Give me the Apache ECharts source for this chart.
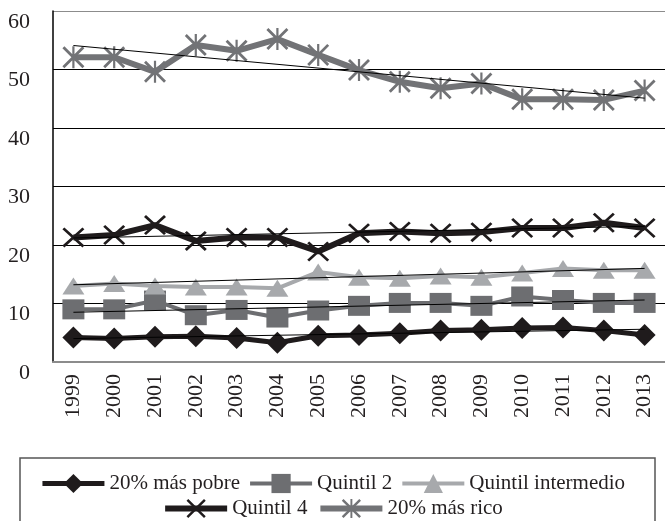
<!DOCTYPE html>
<html>
<head>
<meta charset="utf-8">
<script src="https://cdn.jsdelivr.net/npm/echarts@6/dist/echarts.min.js"></script>
<style>
  html, body { margin: 0; padding: 0; background: #fff; }
  #chart { width: 665px; height: 521px; }
</style>
</head>
<body>
<div id="chart"></div>
<script>
// años
const years = ["1999", "2000", "2001", "2002", "2003", "2004", "2005", "2006",
  "2007", "2008", "2009", "2010", "2011", "2012", "2013"];

// valores
const pobre = [4.2, 4.0, 4.3, 4.4, 4.1, 3.3, 4.5, 4.6, 4.9, 5.4, 5.5, 5.8, 5.9, 5.4, 4.6];
const quintil2 = [9.0, 9.0, 10.5, 8.0, 8.9, 7.6, 8.8, 9.6, 10.1, 10.1, 9.6, 11.2, 10.6, 10.1, 10.1];
const intermedio = [13.0, 13.4, 13.0, 12.8, 12.8, 12.6, 15.4, 14.5, 14.3, 14.7, 14.5, 15.2, 16.0, 15.7, 15.7];
const quintil4 = [21.3, 21.7, 23.4, 20.7, 21.3, 21.3, 18.9, 22.0, 22.3, 22.0, 22.2, 22.9, 22.9, 23.8, 22.9];
const rico = [52.1, 52.1, 49.6, 54.2, 53.2, 55.2, 52.5, 49.9, 47.9, 46.8, 47.6, 44.9, 44.9, 44.8, 46.4];

// líneas de tendencia: valor en 1999 y en 2013
const trendStart = [4.0, 8.5, 13.2, 21.2, 54.1];
const trendEnd = [5.6, 10.6, 16.0, 23.2, 45.1];

const yTicks = [0, 10, 20, 30, 40, 50, 60];

const names = ["20% más pobre", "Quintil 2", "Quintil intermedio", "Quintil 4", "20% más rico"];

const crossPath = "path://M0,9 L9,0 L100,91 L91,100 Z M91,0 L100,9 L9,100 L0,91 Z";
const starPath = "path://M0,9 L9,0 L100,91 L91,100 Z M91,0 L100,9 L9,100 L0,91 Z M45,0 L55,0 L55,100 L45,100 Z";

const serif = "'Liberation Serif', serif";

function trendData(i) {
  let d = years.map(() => null);
  d[0] = trendStart[i];
  d[years.length - 1] = trendEnd[i];
  return d;
}

const mainSeries = [
  { data: pobre, color: "#1f1b1c", width: 5, symbol: "diamond", size: [22, 22] },
  { data: quintil2, color: "#6d6e71", width: 4, symbol: "rect", size: [22, 20] },
  { data: intermedio, color: "#a7a9ac", width: 4, symbol: "triangle", size: [22, 17] },
  { data: quintil4, color: "#1f1b1c", width: 6, symbol: crossPath, size: [22, 20] },
  { data: rico, color: "#727376", width: 6, symbol: starPath, size: [22, 22] },
];

let series = mainSeries.map((s, i) => ({
  name: names[i],
  type: "line",
  data: s.data,
  symbol: s.symbol,
  symbolSize: s.size,
  showAllSymbol: true,
  itemStyle: { color: s.color },
  lineStyle: { color: s.color, width: s.width },
  z: 2 + i,
}));

names.forEach((n, i) => {
  series.push({
    name: "tendencia " + i,
    type: "line",
    data: trendData(i),
    connectNulls: true,
    symbol: "none",
    lineStyle: { color: "#000", width: 1 },
    z: 10,
  });
});

const legendItems = names.map((n, i) => ({
  name: n,
  lineStyle: { width: mainSeries[i].width, color: mainSeries[i].color },
  textStyle: { fontFamily: serif, fontSize: 21, color: "#231f20" },
}));

const legendText = { fontFamily: serif, fontSize: 21, color: "#231f20" };

const chart = echarts.init(document.getElementById("chart"));
chart.setOption({
  animation: false,
  backgroundColor: "#fff",
  textStyle: { fontFamily: serif },
  grid: { left: 53, right: -8, top: 11, bottom: 159 },
  xAxis: {
    type: "category",
    data: years,
    boundaryGap: true,
    axisLine: { lineStyle: { color: "#8c8c8c", width: 2 } },
    axisTick: { show: false },
    axisLabel: {
      rotate: 90,
      margin: 12,
      fontFamily: serif,
      fontSize: 22,
      color: "#231f20",
    },
  },
  yAxis: {
    type: "value",
    min: yTicks[0],
    max: yTicks[yTicks.length - 1],
    interval: 10,
    axisLine: { show: true, lineStyle: { color: "#000", width: 1.5 } },
    axisTick: { show: false },
    axisLabel: {
      margin: 23,
      verticalAlign: "top",
      fontFamily: serif,
      fontSize: 22,
      color: "#231f20",
    },
    splitLine: {
      lineStyle: { color: ["#000", "#000", "#000", "#000", "#000", "#000", "#8c8c8c"], width: 1 },
    },
  },
  legend: [
    {
      data: legendItems.slice(0, 3),
      top: 468,
      left: "center",
      itemWidth: 62,
      itemHeight: 24,
      itemGap: 8,
      selectedMode: false,
      textStyle: legendText,
    },
    {
      data: legendItems.slice(3),
      top: 493,
      left: "center",
      itemWidth: 62,
      itemHeight: 24,
      itemGap: 10,
      selectedMode: false,
      textStyle: legendText,
    },
  ],
  graphic: [
    {
      type: "rect",
      shape: { x: 20, y: 458, width: 635, height: 80 },
      style: { fill: "none", stroke: "#555", lineWidth: 1.5 },
      silent: true,
    },
  ],
  series: series,
});
</script>
</body>
</html>
